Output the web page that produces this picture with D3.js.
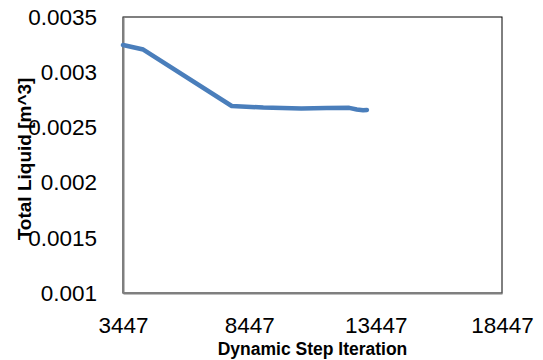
<!DOCTYPE html>
<html>
<head>
<meta charset="utf-8">
<script src="https://cdn.jsdelivr.net/npm/d3@7"></script>
<style>
  body { margin: 0; background: #fff; }
  svg { display: block; font-family: "Liberation Sans", Arial, sans-serif; }
</style>
</head>
<body>
<div id="chart"></div>
<script>
// data
const iterations = [3447, 4250, 7750, 9000, 10500, 11500, 12400, 12700, 12950, 13100];
const liquid = [0.003246, 0.003205, 0.002694, 0.00268, 0.002672, 0.002676, 0.002677, 0.002662, 0.002655, 0.002658];
const xTicks = [3447, 8447, 13447, 18447];
const yTicks = [0.001, 0.0015, 0.002, 0.0025, 0.003, 0.0035];

const width = 543, height = 360;
const plot = { left: 123, right: 502, top: 17, bottom: 293 };

const svg = d3.select('#chart').append('svg')
    .attr('width', width)
    .attr('height', height);

const x = d3.scaleLinear().domain([3447, 18447]).range([plot.left, plot.right]);
const y = d3.scaleLinear().domain([0.001, 0.0035]).range([plot.bottom, plot.top]);

// plot area frame (top/right dark)
svg.append('rect')
    .attr('x', plot.left).attr('y', plot.top)
    .attr('width', plot.right - plot.left)
    .attr('height', plot.bottom - plot.top)
    .attr('fill', '#fff')
    .attr('stroke', '#000')
    .attr('stroke-width', 1);

// axes
const xAxis = svg.append('g')
    .attr('transform', 'translate(0,' + plot.bottom + ')')
    .call(d3.axisBottom(x).tickValues(xTicks).tickSize(0).tickPadding(24).tickFormat(d3.format('d')));
const yAxis = svg.append('g')
    .attr('transform', 'translate(' + plot.left + ',0)')
    .call(d3.axisLeft(y).tickValues(yTicks).tickSize(0).tickPadding(26).tickFormat(d => String(+d.toFixed(4))));

[xAxis, yAxis].forEach(g => {
    g.select('.domain').attr('stroke', '#7f7f7f').attr('stroke-width', 2);
    g.selectAll('text')
        .attr('font-family', '"Liberation Sans", Arial, sans-serif')
        .attr('font-size', 22.5)
        .attr('fill', '#000');
});

// series
const pts = iterations.map((it, i) => [it, liquid[i]]);
svg.append('path')
    .datum(pts)
    .attr('fill', 'none')
    .attr('stroke', '#4a7ebb')
    .attr('stroke-width', 4.5)
    .attr('stroke-linejoin', 'round')
    .attr('stroke-linecap', 'round')
    .attr('d', d3.line().x(d => x(d[0])).y(d => y(d[1])));

// axis titles
svg.append('text')
    .attr('x', (plot.left + plot.right) / 2)
    .attr('y', 355)
    .attr('text-anchor', 'middle')
    .attr('font-weight', 'bold')
    .attr('font-size', 17.5)
    .text('Dynamic Step Iteration');

svg.append('text')
    .attr('transform', 'translate(31,159) rotate(-90)')
    .attr('text-anchor', 'middle')
    .attr('font-weight', 'bold')
    .attr('font-size', 19)
    .text('Total Liquid [m^3]');
</script>
</body>
</html>
